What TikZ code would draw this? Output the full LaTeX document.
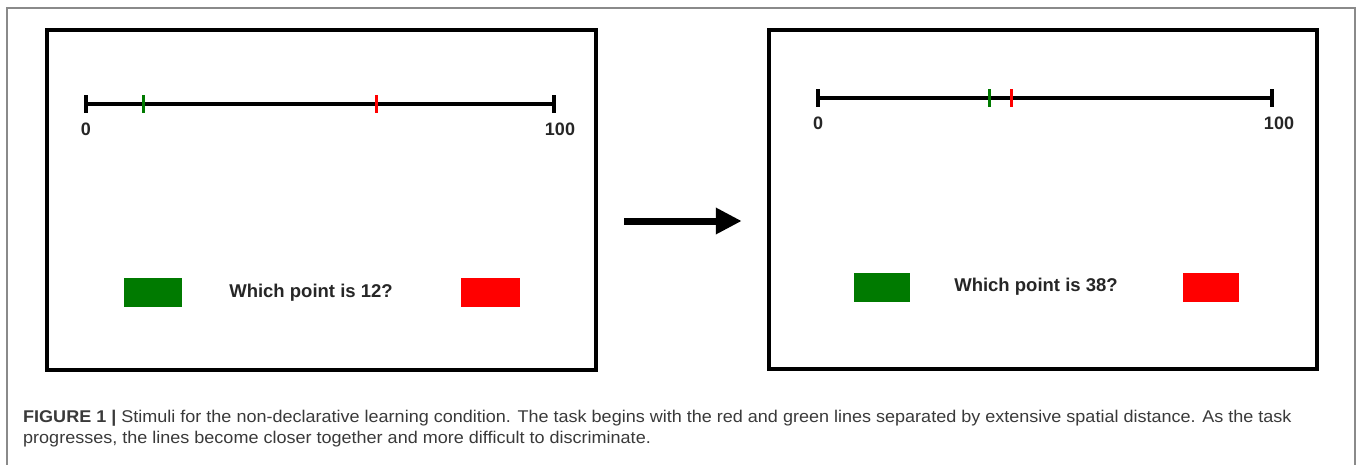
\documentclass[tikz,border=0pt]{standalone}
\usepackage{fontspec}
\setmainfont{Liberation Sans}
\newfontfamily\capfont[FakeStretch=1.06]{Liberation Sans}
\usetikzlibrary{arrows.meta}
\definecolor{gfr}{HTML}{8A8A8A}
\definecolor{tgreen}{HTML}{007A00}
\definecolor{tred}{HTML}{FF0000}
\definecolor{captxt}{HTML}{3A3A3A}
\tikzset{
  screen/.style={draw=black, line width=4.5pt, inner sep=0pt, fill=none},
  numline/.style={line width=4pt, black},
  endtick/.style={line width=3.5pt, black},
  gtick/.style={line width=3pt, tgreen},
  rtick/.style={line width=3pt, tred},
  numlbl/.style={font=\bfseries\fontsize{18}{18}\selectfont, inner sep=0pt, text=black!85},
  question/.style={font=\bfseries\fontsize{18.5}{18.5}\selectfont, inner sep=0pt, text=black!85},
  gbox/.style={fill=tgreen, draw=none, minimum width=58pt, minimum height=29pt, inner sep=0pt},
  rbox/.style={fill=tred, draw=none, minimum width=59pt, minimum height=29pt, inner sep=0pt},
}
\begin{document}
\begin{tikzpicture}[x=1pt, y=-1pt]
\useasboundingbox (0,0) rectangle (1360,464);
\fill[white] (0,0) rectangle (1360,464);
% outer frame
\draw[gfr, line width=1.3pt] (7,466) -- (7,8) -- (1355,8) -- (1355,466);

% left screen
\node[screen, minimum width=549pt, minimum height=340pt] (L) at (321.5,200) {};
\coordinate (L0) at (86,104);
\coordinate (L100) at (554,104);
\draw[numline] (L0) -- (L100);
\draw[endtick] (86,95) -- (86,113);
\draw[endtick] (554,95) -- (554,113);
\draw[gtick] (143,95) -- (143,113);
\draw[rtick] (376,95) -- (376,113);
\node[numlbl] (l0) at (86,129) {0};
\node[numlbl] (l100) at (560,129) {100};
\node[gbox] (lg) at (153,292.5) {};
\node[rbox] (lr) at (490.5,292.5) {};
\node[question] (lq) at (311,293) {Which point is 12?};

% right screen
\node[screen, minimum width=548pt, minimum height=339pt] (R) at (1043,199.5) {};
\coordinate (R0) at (818,98);
\coordinate (R100) at (1272,98);
\draw[numline] (R0) -- (R100);
\draw[endtick] (818,89) -- (818,107);
\draw[endtick] (1272,89) -- (1272,107);
\draw[gtick] (989,89) -- (989,107);
\draw[rtick] (1011,89) -- (1011,107);
\node[numlbl] (r0) at (818,123) {0};
\node[numlbl] (r100) at (1279,123) {100};
\node[gbox, minimum width=56pt] (rg) at (882,287.5) {};
\node[rbox, minimum width=56pt] (rr) at (1211,287.5) {};
\node[question] (rq) at (1036,287) {Which point is 38?};

% arrow
\coordinate (As) at (L.east |- 0,221);
\coordinate (Ae) at (R.west |- 0,221);
\draw[line width=7pt, -{Triangle[length=26pt, width=25pt]}, shorten <=26pt, shorten >=25pt] (As) -- (Ae);

% caption
\node[anchor=north west, align=left, inner sep=0pt, text=captxt,
      font=\capfont\fontsize{17}{21}\selectfont] (cap) at (23,410)
  {{\bfseries FIGURE 1 |} Stimuli for the non-declarative learning condition. The task begins with the red and green lines separated by extensive spatial distance. As the task\\
   progresses, the lines become closer together and more difficult to discriminate.};
\end{tikzpicture}
\end{document}
